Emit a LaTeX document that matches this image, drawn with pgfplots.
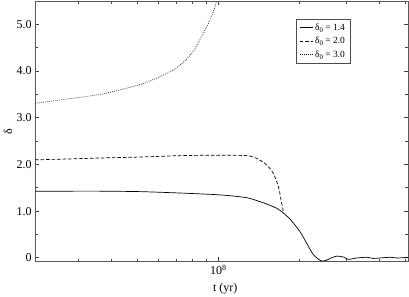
\documentclass[border=0pt]{standalone}
\usepackage{pgfplots}
\pgfplotsset{compat=1.18}
\usepackage{fontspec}
\setmainfont{Liberation Serif}
\begin{document}
\begin{tikzpicture}
\begin{axis}[
  scale only axis,
  width=373bp, height=260.7bp,
  at={(0,0)}, anchor=south west,
  xmode=log,
  xmin=2.07e7, xmax=5.1e8,
  ymin=-0.08, ymax=5.5,
  xtick={1e8}, xticklabels={10\textsuperscript{8}},
  minor xtick={3e7,4e7,5e7,6e7,7e7,8e7,9e7,2e8,3e8,4e8,5e8},
  ytick={0,1,2,3,4,5},
  yticklabels={0,1.0,2.0,3.0,4.0,5.0},
  minor ytick={0.5,1.5,2.5,3.5,4.5},
  xtick style={draw=black!75, line width=1pt},
  ytick style={draw=black!75, line width=1pt},
  axis line style={black!65, line width=0.8pt},
  tick label style={font=\fontsize{12}{14}\selectfont},
  xlabel={t (yr)},
  ylabel={δ},
  label style={font=\fontsize{12}{14}\selectfont},
  xlabel style={at={(axis description cs:0.51,-0.102)}, anchor=center},
  ylabel style={at={(axis description cs:-0.0724,0.5)}, anchor=center},
  legend style={at={(axis description cs:0.70,0.93)}, anchor=north west,
    font=\fontsize{9.5}{11}\selectfont, draw=black!70, line width=0.6pt,
    inner xsep=3bp, inner ysep=2bp, row sep=1.5bp},
  legend cell align=left,
  legend image code/.code={\draw[#1] (0bp,0bp) -- (13bp,0bp);},
]
\addplot[black, line width=0.7pt, smooth, tension=0.4] coordinates {
(2.07e7,1.43)(2.80e7,1.43)(3.62e7,1.43)(5.10e7,1.42)(7.20e7,1.39)(1.015e8,1.35)
(1.276e8,1.29)(1.472e8,1.18)(1.60e8,1.10)(1.699e8,1.02)(1.852e8,0.83)(2.018e8,0.56)
(2.137e8,0.31)(2.262e8,0.07)(2.396e8,-0.05)(2.465e8,-0.065)(2.53e8,-0.05)(2.611e8,-0.01)
(2.766e8,0.04)(2.927e8,0.02)(3.056e8,-0.03)(3.285e8,0.0)(3.579e8,0.015)(3.788e8,-0.01)
(4.013e8,0.0)(4.373e8,0.015)(4.632e8,0.0)(5.103e8,0.01)};
\addlegendentry{δ\raisebox{-0.45ex}{\fontsize{7}{8}\selectfont 0} = 1.4}
\addplot[black, line width=0.7pt, dash pattern=on 3.5bp off 2bp, smooth, tension=0.4] coordinates {
(2.07e7,2.10)(2.80e7,2.12)(3.62e7,2.14)(5.10e7,2.16)(7.20e7,2.19)(1.015e8,2.20)
(1.276e8,2.19)(1.391e8,2.13)(1.516e8,1.99)(1.604e8,1.81)(1.675e8,1.53)(1.714e8,1.24)(1.748e8,0.99)};
\addlegendentry{δ\raisebox{-0.45ex}{\fontsize{7}{8}\selectfont 0} = 2.0}
\addplot[black, line width=0.7pt, dash pattern=on 0.7bp off 1.3bp, smooth, tension=0.4] coordinates {
(2.07e7,3.31)(2.80e7,3.41)(3.62e7,3.50)(4.30e7,3.60)(5.10e7,3.71)(6.06e7,3.88)
(6.90e7,4.05)(7.51e7,4.22)(8.07e7,4.43)(8.79e7,4.81)(9.31e7,5.10)(9.72e7,5.38)(9.86e7,5.52)};
\addlegendentry{δ\raisebox{-0.45ex}{\fontsize{7}{8}\selectfont 0} = 3.0}
\end{axis}
\pgfresetboundingbox
\path[use as bounding box] (-35bp,-35.3bp) rectangle (374bp,261.7bp);
\end{tikzpicture}
\end{document}
